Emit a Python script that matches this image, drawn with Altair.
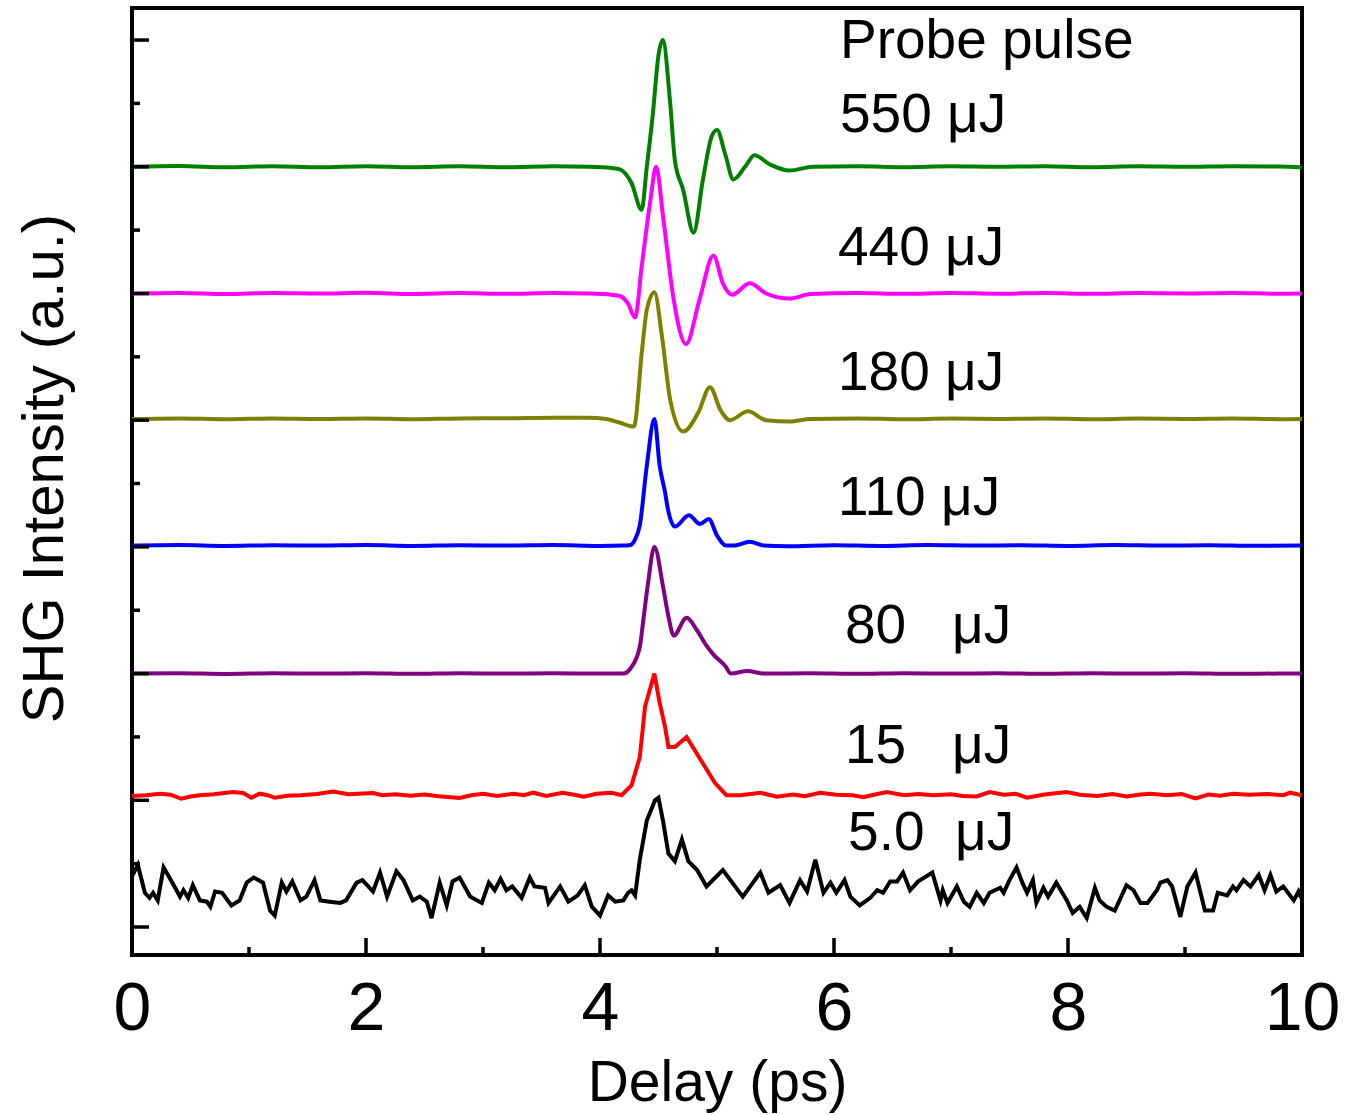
import altair as alt
import pandas as pd

# ---------------- data ----------------
x_ticks_major = [0, 2, 4, 6, 8, 10]
x_ticks_minor = [1, 3, 5, 7, 9]
y_ticks_major = [0, 1, 2, 3, 4, 5, 6, 7]
y_ticks_minor = [0.5, 1.5, 2.5, 3.5, 4.5, 5.5, 6.5]

series_names = ["550", "440", "180", "110", "80", "15", "5.0"]
series_colors = ["#008000", "#ff00ff", "#808000", "#0000ff", "#800080", "#ff0000", "#000000"]
series_offsets = [6.0, 5.0, 4.01, 3.01, 2.0, 1.04, 0.0]

green_t = [0.0, 0.4, 0.8, 1.2, 1.6, 2.0, 2.4, 2.8, 3.2, 3.6, 3.9, 4.10, 4.17, 4.27, 4.356, 4.40, 4.45,
           4.50, 4.536, 4.60, 4.64, 4.71, 4.80, 4.88, 4.955, 5.0, 5.07, 5.14, 5.24, 5.32, 5.45, 5.62,
           5.82, 6.2, 6.6, 7.0, 7.4, 7.8, 8.2, 8.6, 9.0, 9.4, 9.8, 10.0]
green_v = [0.0, 0.006, -0.004, 0.004, -0.004, 0.005, -0.003, 0.004, -0.004, 0.004, 0.0, -0.01, -0.02,
           -0.13, -0.34, 0.0, 0.40, 0.88, 1.0, 0.5, 0.05, -0.18, -0.52, -0.10, 0.24, 0.29, 0.10, -0.10,
           0.0, 0.09, 0.02, -0.03, 0.0, 0.004, -0.003, 0.004, 0.0, 0.005, -0.003, 0.004, 0.0, 0.005,
           0.002, -0.003]

magenta_t = [0.0, 0.4, 0.8, 1.2, 1.6, 2.0, 2.4, 2.8, 3.2, 3.6, 3.9, 4.10, 4.17, 4.24, 4.30, 4.356, 4.43,
             4.48, 4.54, 4.63, 4.735, 4.85, 4.97, 5.05, 5.13, 5.28, 5.42, 5.62, 5.8, 6.2, 6.6, 7.0, 7.4,
             7.8, 8.2, 8.6, 9.0, 9.4, 9.8, 10.0]
magenta_v = [0.0, 0.004, -0.004, 0.004, 0.0, 0.005, -0.004, 0.003, -0.003, 0.004, 0.0, -0.01, -0.02,
             -0.08, -0.19, 0.21, 0.73, 1.0, 0.60, -0.05, -0.40, -0.05, 0.30, 0.08, -0.01, 0.08, 0.0,
             -0.04, -0.005, 0.004, -0.003, 0.004, -0.002, 0.004, -0.003, 0.003, 0.0, 0.004, -0.002, 0.0]

olive_t = [0.0, 0.4, 0.8, 1.2, 1.6, 2.0, 2.4, 2.8, 3.2, 3.6, 3.9, 4.05, 4.17, 4.29, 4.36, 4.40, 4.465,
           4.53, 4.60, 4.71, 4.84, 4.94, 5.03, 5.11, 5.265, 5.42, 5.62, 5.8, 6.2, 6.6, 7.0, 7.4, 7.8,
           8.2, 8.6, 9.0, 9.4, 9.8, 10.0]
olive_v = [0.0, 0.004, -0.003, 0.004, 0.0, 0.004, -0.003, 0.004, 0.005, 0.01, 0.01, 0.0, -0.03, -0.06,
           0.55, 0.86, 1.0, 0.65, 0.15, -0.10, 0.05, 0.25, 0.07, -0.01, 0.06, -0.01, -0.02, 0.0, 0.004,
           -0.003, 0.003, 0.0, 0.004, -0.003, 0.003, 0.0, 0.004, -0.002, 0.0]

blue_t = [0.0, 0.4, 0.8, 1.2, 1.6, 2.0, 2.4, 2.8, 3.2, 3.6, 4.0, 4.20, 4.26, 4.30, 4.34, 4.40, 4.465,
          4.51, 4.556, 4.58, 4.64, 4.76, 4.855, 4.93, 5.0, 5.08, 5.15, 5.28, 5.40, 5.6, 6.0, 6.4, 6.8,
          7.2, 7.6, 8.0, 8.4, 8.8, 9.2, 9.6, 10.0]
blue_v = [0.0, 0.004, -0.003, 0.003, 0.0, 0.004, -0.003, 0.003, 0.0, 0.004, -0.003, 0.0, 0.005, 0.05,
          0.16, 0.63, 1.0, 0.63, 0.42, 0.29, 0.15, 0.24, 0.17, 0.21, 0.08, 0.0, 0.0, 0.03, 0.0, -0.005,
          0.003, -0.003, 0.004, 0.0, 0.003, -0.003, 0.004, 0.0, 0.003, -0.002, 0.0]

purple_t = [0.0, 0.4, 0.8, 1.2, 1.6, 2.0, 2.4, 2.8, 3.2, 3.6, 4.0, 4.20, 4.26, 4.34, 4.37, 4.41, 4.465,
            4.54, 4.585, 4.63, 4.74, 4.83, 4.91, 4.97, 5.07, 5.12, 5.26, 5.4, 5.8, 6.2, 6.6, 7.0, 7.4,
            7.8, 8.2, 8.6, 9.0, 9.4, 9.8, 10.0]
purple_v = [0.0, 0.003, -0.003, 0.003, 0.0, 0.003, -0.002, 0.003, 0.0, 0.003, 0.0, 0.0, 0.04, 0.21,
            0.42, 0.71, 1.0, 0.68, 0.45, 0.30, 0.44, 0.34, 0.22, 0.15, 0.06, 0.0, 0.02, 0.0, 0.003,
            -0.002, 0.003, 0.0, 0.003, -0.002, 0.002, 0.0, 0.003, -0.002, 0.0, 0.0]

red_t = [0.0, 0.12, 0.24, 0.33, 0.42, 0.50, 0.58, 0.70, 0.86, 0.95, 1.02, 1.09, 1.16, 1.22, 1.33, 1.44,
         1.58, 1.72, 1.85, 2.06, 2.14, 2.25, 2.38, 2.50, 2.62, 2.80, 2.90, 3.0, 3.12, 3.26, 3.35, 3.43,
         3.54, 3.68, 3.78, 3.86, 3.97, 4.10, 4.185, 4.27, 4.34, 4.385, 4.465, 4.51, 4.556, 4.585,
         4.64, 4.74, 4.88, 4.98, 5.08, 5.20, 5.37, 5.51, 5.65, 5.75, 5.88, 6.02, 6.16, 6.25, 6.35,
         6.45, 6.60, 6.72, 6.85, 7.00, 7.10, 7.22, 7.33, 7.45, 7.55, 7.65, 7.80, 7.99, 8.10, 8.25,
         8.38, 8.50, 8.60, 8.70, 8.85, 8.97, 9.09, 9.20, 9.30, 9.41, 9.55, 9.70, 9.84, 9.90, 10.0]
red_v = [-0.006, 0.0, 0.012, 0.004, -0.028, -0.01, 0.0, 0.008, 0.025, 0.018, -0.02, 0.012, 0.0, -0.02,
         -0.004, 0.0, 0.01, 0.03, 0.008, 0.017, 0.0, 0.008, -0.005, 0.006, -0.008, -0.022, 0.0, 0.012,
         -0.006, 0.012, 0.0, 0.02, -0.006, 0.02, 0.004, -0.012, 0.012, 0.02, 0.0, 0.08, 0.30, 0.70,
         0.96, 0.73, 0.54, 0.38, 0.38, 0.46, 0.25, 0.10, 0.0, 0.0, 0.02, -0.012, 0.006, -0.008, 0.02,
         0.004, 0.0, -0.015, 0.006, 0.025, 0.0, 0.01, 0.0, 0.008, -0.006, -0.01, 0.025, 0.004,
         0.012, -0.02, 0.006, 0.025, 0.004, -0.006, 0.01, -0.01, 0.004, 0.012, 0.0, 0.01, -0.025,
         0.006, -0.004, 0.012, 0.004, 0.01, 0.0, 0.02, 0.0]

black_t = [0.00, 0.05, 0.11, 0.15, 0.18, 0.22, 0.27, 0.32, 0.41, 0.44, 0.48, 0.52, 0.58, 0.64, 0.67,
           0.71, 0.77, 0.85, 0.92, 0.98, 1.04, 1.12, 1.18, 1.22, 1.28, 1.32, 1.37, 1.44, 1.49, 1.56,
           1.61, 1.69, 1.78, 1.83, 1.92, 1.97, 2.06, 2.12, 2.18, 2.26, 2.32, 2.40, 2.46, 2.52, 2.56,
           2.63, 2.69, 2.74, 2.80, 2.89, 2.95, 2.99, 3.05, 3.10, 3.15, 3.20, 3.25, 3.33, 3.40, 3.44,
           3.53, 3.56, 3.66, 3.73, 3.81, 3.87, 3.93, 4.00, 4.07, 4.13, 4.20, 4.24, 4.27, 4.30, 4.34,
           4.40, 4.47, 4.50, 4.54, 4.585, 4.64, 4.70, 4.755, 4.83, 4.91, 5.05, 5.22, 5.37, 5.44, 5.54,
           5.62, 5.71, 5.77, 5.84, 5.91, 5.97, 6.02, 6.09, 6.14, 6.22, 6.31, 6.37, 6.42, 6.48, 6.54,
           6.59, 6.65, 6.72, 6.84, 6.91, 6.93, 6.97, 7.05, 7.11, 7.16, 7.22, 7.28, 7.33, 7.42, 7.45,
           7.50, 7.56, 7.61, 7.65, 7.70, 7.73, 7.79, 7.83, 7.90, 7.99, 8.04, 8.10, 8.16, 8.23, 8.27,
           8.33, 8.40, 8.50, 8.56, 8.62, 8.68, 8.76, 8.79, 8.85, 8.89, 8.96, 9.02, 9.09, 9.17, 9.24,
           9.28, 9.36, 9.41, 9.44, 9.50, 9.56, 9.63, 9.68, 9.73, 9.78, 9.84, 9.93, 9.97, 10.0]
black_v = [0.40, 0.49, 0.27, 0.23, 0.27, 0.21, 0.47, 0.39, 0.24, 0.29, 0.23, 0.33, 0.21, 0.20, 0.16,
           0.28, 0.27, 0.17, 0.21, 0.35, 0.39, 0.35, 0.13, 0.09, 0.35, 0.28, 0.36, 0.21, 0.24, 0.37,
           0.21, 0.20, 0.19, 0.21, 0.35, 0.37, 0.28, 0.43, 0.24, 0.44, 0.37, 0.21, 0.24, 0.20, 0.07,
           0.35, 0.17, 0.36, 0.39, 0.24, 0.21, 0.19, 0.35, 0.29, 0.38, 0.29, 0.32, 0.23, 0.39, 0.32,
           0.31, 0.19, 0.32, 0.20, 0.25, 0.33, 0.16, 0.09, 0.25, 0.20, 0.21, 0.27, 0.29, 0.25, 0.53,
           0.84, 1.00, 1.02, 0.83, 0.58, 0.52, 0.69, 0.52, 0.45, 0.32, 0.45, 0.24, 0.43, 0.27, 0.33,
           0.19, 0.37, 0.28, 0.53, 0.27, 0.35, 0.27, 0.37, 0.24, 0.17, 0.23, 0.29, 0.27, 0.36, 0.36,
           0.43, 0.29, 0.36, 0.43, 0.21, 0.29, 0.19, 0.32, 0.20, 0.16, 0.27, 0.19, 0.27, 0.31, 0.27,
           0.37, 0.47, 0.35, 0.27, 0.37, 0.19, 0.31, 0.24, 0.35, 0.21, 0.11, 0.16, 0.07, 0.31, 0.21,
           0.16, 0.13, 0.33, 0.29, 0.19, 0.19, 0.29, 0.35, 0.37, 0.32, 0.08, 0.32, 0.43, 0.13, 0.13,
           0.27, 0.25, 0.32, 0.29, 0.37, 0.32, 0.41, 0.29, 0.41, 0.28, 0.32, 0.21, 0.28, 0.22]

label_texts = ["Probe pulse", "550 μJ", "440 μJ", "180 μJ", "110 μJ",
               "80\u00a0\u00a0\u00a0μJ", "15\u00a0\u00a0\u00a0μJ", "5.0\u00a0\u00a0μJ"]
label_t = [6.051, 6.051, 6.034, 6.034, 6.034, 6.094, 6.094, 6.12]
label_v = [6.859, 6.275, 5.225, 4.238, 3.252, 2.241, 1.294, 0.608]

all_t = [green_t, magenta_t, olive_t, blue_t, purple_t, red_t, black_t]
all_v = [green_v, magenta_v, olive_v, blue_v, purple_v, red_v, black_v]

# ---------------- chart ----------------
FONT = "Liberation Sans"
W, H = 1170, 947

xscale = alt.Scale(domain=[0, 10], nice=False, zero=False)
yscale = alt.Scale(domain=[-0.221, 7.253], nice=False, zero=False)

xaxis = alt.Axis(title="Delay (ps)", values=x_ticks_major, format="d",
                 ticks=False, domain=False, grid=False,
                 labelFont=FONT, labelFontSize=68, labelColor="black",
                 labelPadding=20, labelFlush=False,
                 titleFont=FONT, titleFontSize=57, titleFontWeight="normal",
                 titleColor="black", titleBaseline="alphabetic",
                 titleY=145, titleX=W / 2)
yaxis = alt.Axis(title="SHG Intensity (a.u.)", labels=False, ticks=False,
                 domain=False, grid=False,
                 titleFont=FONT, titleFontSize=58, titleFontWeight="normal",
                 titleColor="black", titleAngle=-90, titleBaseline="alphabetic",
                 titleX=-70, titleY=460)

X = alt.X("t:Q", scale=xscale, axis=xaxis)
Y = alt.Y("v:Q", scale=yscale, axis=yaxis)

layers = []
for name, col, off, ts, vs in zip(series_names, series_colors, series_offsets, all_t, all_v):
    df = pd.DataFrame({"t": ts, "v": [off + v for v in vs]})
    interp = "linear" if name in ("5.0", "15") else "monotone"
    layers.append(
        alt.Chart(df).mark_line(color=col, strokeWidth=4, interpolate=interp, clip=True)
        .encode(x=X, y=Y)
    )

# inward ticks
xmaj = alt.Chart(pd.DataFrame({"t": x_ticks_major})).mark_rule(color="black", strokeWidth=3.5).encode(
    x=X, y=alt.value(H), y2=alt.value(H - 17))
xmin = alt.Chart(pd.DataFrame({"t": x_ticks_minor})).mark_rule(color="black", strokeWidth=3.5).encode(
    x=X, y=alt.value(H), y2=alt.value(H - 8))
ymaj = alt.Chart(pd.DataFrame({"v": y_ticks_major})).mark_rule(color="black", strokeWidth=3.5).encode(
    y=Y, x=alt.value(0), x2=alt.value(17))
ymin = alt.Chart(pd.DataFrame({"v": y_ticks_minor})).mark_rule(color="black", strokeWidth=3.5).encode(
    y=Y, x=alt.value(0), x2=alt.value(8))

labels = alt.Chart(pd.DataFrame({"t": label_t, "v": label_v, "txt": label_texts})).mark_text(
    align="left", baseline="alphabetic", font=FONT, fontSize=55, color="black"
).encode(x=X, y=Y, text="txt:N")

chart = alt.layer(*layers, xmaj, xmin, ymaj, ymin, labels).properties(
    width=W, height=H,
    padding={"left": 132, "top": 8, "right": 43, "bottom": 160},
    autosize=alt.AutoSizeParams(type="none"),
    background="white",
).configure_view(stroke="black", strokeWidth=4)

chart.save("out.html", embed_options={"renderer": "svg", "actions": False})
